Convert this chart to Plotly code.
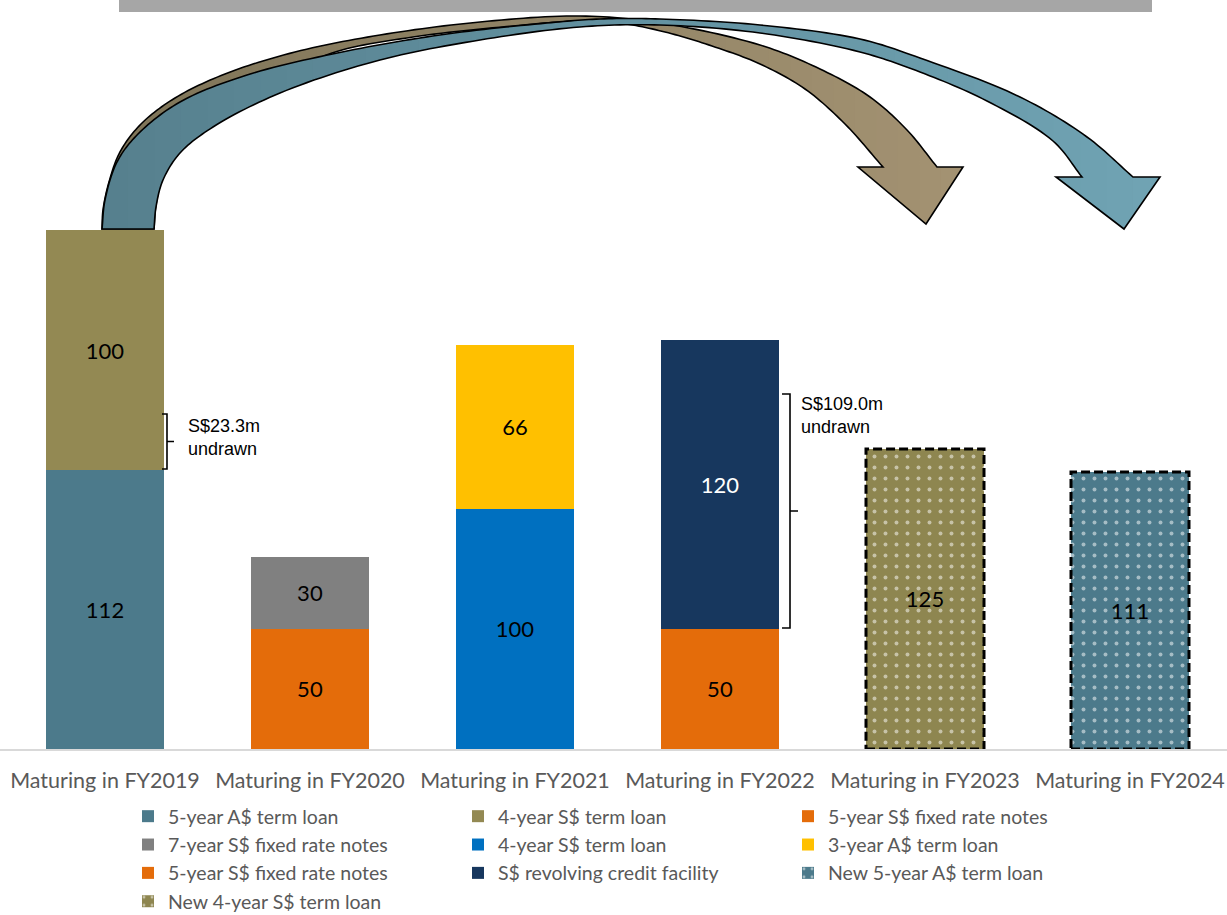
import numpy as np
import plotly.graph_objects as go

W, H = 1227, 915

# ---------------- data ----------------
categories = ["Maturing in FY2019", "Maturing in FY2020", "Maturing in FY2021",
              "Maturing in FY2022", "Maturing in FY2023", "Maturing in FY2024"]
series_names = ["5-year A$ term loan", "4-year S$ term loan", "5-year S$ fixed rate notes",
                "7-year S$ fixed rate notes", "4-year S$ term loan", "3-year A$ term loan",
                "5-year S$ fixed rate notes", "S$ revolving credit facility",
                "New 5-year A$ term loan", "New 4-year S$ term loan"]
series_category = ["Maturing in FY2019", "Maturing in FY2019", "Maturing in FY2020",
                   "Maturing in FY2020", "Maturing in FY2021", "Maturing in FY2021",
                   "Maturing in FY2022", "Maturing in FY2022",
                   "Maturing in FY2024", "Maturing in FY2023"]
# bar heights (S$ equivalent)
series_values = [116.2, 100, 50, 30, 100, 68.3, 50, 120.4, 115.4, 125]
# printed labels (original currency amounts)
series_labels = ["112", "100", "50", "30", "100", "66", "50", "120", "111", "125"]
series_colors = ["#4C7A8B", "#938953", "#E46C0A", "#808080", "#0070C0", "#FFC000",
                 "#E46C0A", "#17375E", "#4C7A8B", "#8E8650"]
label_colors = ["black"] * 7 + ["white"] + ["black"] * 2
patterned = [False] * 8 + [True, True]
undrawn_text = ["S$23.3m<br>undrawn", "S$109.0m<br>undrawn"]

# ---------------- figure ----------------
fig = go.Figure()
for name, cat, val, lab, col, lc, pat in zip(series_names, series_category, series_values,
                                               series_labels, series_colors, label_colors, patterned):
    marker = dict(color=col, line=dict(width=0))
    if pat:
        marker["pattern"] = dict(shape=".", fgcolor="white", size=11, solidity=0.1,
                                 fillmode="overlay")
    fig.add_trace(go.Bar(
        x=[cat], y=[val], name=name, marker=marker,
        text=[lab], textposition="inside", insidetextanchor="middle",
        textangle=0, constraintext="none",
        textfont=dict(family="Lato", size=22, color=lc),
        hoverinfo="skip",
    ))

# dashed borders on the new-loan bars (from the data)
bar_half = 0.5 * (1 - 0.4244)
for cat, val, pat in zip(series_category, series_values, patterned):
    if pat:
        i = categories.index(cat)
        fig.add_shape(type="rect", xref="x", yref="y", x0=i - bar_half, x1=i + bar_half,
                      y0=0, y1=val, line=dict(color="black", width=3, dash="9px,4px"),
                      fillcolor="rgba(0,0,0,0)", layer="above")


# ---------------- decorations (pixel coordinates -> paper) ----------------
def px(x, y):
    return x / W, 1 - y / H


def cr_seg(p0, p1, p2, p3, n):
    def tj(ti, a, b):
        return ti + max(np.linalg.norm(b - a), 1e-6) ** 0.5
    t0 = 0.0
    t1 = tj(t0, p0, p1)
    t2 = tj(t1, p1, p2)
    t3 = tj(t2, p2, p3)
    ts = np.linspace(t1, t2, n, endpoint=False)[:, None]
    A1 = (t1 - ts) / (t1 - t0) * p0 + (ts - t0) / (t1 - t0) * p1
    A2 = (t2 - ts) / (t2 - t1) * p1 + (ts - t1) / (t2 - t1) * p2
    A3 = (t3 - ts) / (t3 - t2) * p2 + (ts - t2) / (t3 - t2) * p3
    B1 = (t2 - ts) / (t2 - t0) * A1 + (ts - t0) / (t2 - t0) * A2
    B2 = (t3 - ts) / (t3 - t1) * A2 + (ts - t1) / (t3 - t1) * A3
    return (t2 - ts) / (t2 - t1) * B1 + (ts - t1) / (t2 - t1) * B2


def spline(points, n=14):
    P = np.array(points, float)
    P = np.vstack([2 * P[0] - P[1], P, 2 * P[-1] - P[-2]])
    out = []
    for i in range(1, len(P) - 2):
        out.append(cr_seg(P[i - 1], P[i], P[i + 1], P[i + 2], n))
    out.append(P[-2][None, :])
    return np.vstack(out)


def clip(poly, x0, keep_ge):
    out = []
    n = len(poly)
    for i in range(n):
        cur, prev = poly[i], poly[i - 1]
        cin = cur[0] >= x0 if keep_ge else cur[0] <= x0
        pin = prev[0] >= x0 if keep_ge else prev[0] <= x0
        if cin:
            if not pin:
                t = (x0 - prev[0]) / (cur[0] - prev[0])
                out.append((x0, prev[1] + t * (cur[1] - prev[1])))
            out.append(tuple(cur))
        elif pin:
            t = (x0 - prev[0]) / (cur[0] - prev[0])
            out.append((x0, prev[1] + t * (cur[1] - prev[1])))
    return out


def path_of(poly):
    s = ""
    for k, (x, y) in enumerate(poly):
        a, b = px(x, y)
        s += ("M" if k == 0 else "L") + f"{a:.5f},{b:.5f}"
    return s + "Z"


def mix(c1, c2, t):
    return "rgb(" + ",".join(str(int(round(a + (b - a) * t))) for a, b in zip(c1, c2)) + ")"


def arrow(outer, inner, head, c_left, c_right, nstrips=40):
    o = spline(outer)
    i = spline(inner)
    poly = [tuple(p) for p in o] + head + [tuple(p) for p in i[::-1]]
    xs = [p[0] for p in poly]
    xmin, xmax = min(xs), max(xs)
    edges = np.linspace(xmin, xmax, nstrips + 1)
    for k in range(nstrips):
        a, b = edges[k] - 0.6, edges[k + 1] + 0.6
        part = clip(clip(poly, a, True), b, False)
        if len(part) < 3:
            continue
        col = mix(c_left, c_right, (k + 0.5) / nstrips)
        fig.add_shape(type="path", xref="paper", yref="paper", path=path_of(part),
                      fillcolor=col, line=dict(width=0), layer="above")
    fig.add_shape(type="path", xref="paper", yref="paper", path=path_of(poly),
                  fillcolor="rgba(0,0,0,0)", line=dict(color="black", width=1.6), layer="above")


# tan arrow (behind)
tan_outer = [(102, 229), (103, 210), (109, 182), (120, 152), (141, 124), (175, 98), (225, 74),
             (295, 52), (380, 35), (480, 22), (580, 16), (660, 23), (760, 45), (820, 69),
             (870, 97), (907, 130), (937, 167)]
tan_inner = [(154, 229), (156, 205), (162, 180), (175, 158), (200, 133), (240, 105), (290, 74),
             (332, 53), (413, 37), (513, 26), (580, 21), (620, 23), (665, 32), (712, 46),
             (760, 64), (805, 89), (845, 124), (883, 167)]
tan_head = [(963, 167), (926, 224), (858, 167)]
arrow(tan_outer, tan_inner, tan_head, (126, 116, 88), (163, 146, 114))

# teal arrow (front)
teal_outer = [(102, 229), (105, 200), (117, 162), (138, 134), (180, 102), (247, 75), (347, 51),
              (447, 34), (547, 23), (600, 19), (660, 19), (760, 25), (860, 39), (920, 58),
              (1020, 97), (1087, 137), (1133, 177)]
teal_inner = [(154, 229), (156, 207), (163, 180), (180, 153), (213, 127), (280, 93), (380, 60),
              (480, 40), (580, 27), (660, 25), (760, 33), (860, 52), (920, 72), (987, 101),
              (1053, 141), (1082, 177)]
teal_head = [(1160, 177), (1124, 229), (1056, 177)]
arrow(teal_outer, teal_inner, teal_head, (86, 128, 142), (112, 163, 179))

# grey banner at top (partially visible)
x0, y0 = px(119, 0)
x1, y1 = px(1152, 12)
fig.add_shape(type="rect", xref="paper", yref="paper", x0=x0, x1=x1, y0=y1, y1=1.05,
              fillcolor="#A6A6A6", line=dict(width=0), layer="above")

# brackets for undrawn amounts
brackets = [((162, 414), (167, 469), 174), ((782, 394), (790, 628), 798)]
for (bx0, by0), (bx1, by1), tick in brackets:
    ym = 0.5 * (by0 + by1)
    p = [(bx0, by0), (bx1, by0), (bx1, by1), (bx0, by1)]
    s = ""
    for k, (x, y) in enumerate(p):
        a, b = px(x, y)
        s += ("M" if k == 0 else "L") + f"{a:.5f},{b:.5f}"
    a, b = px(bx1, ym)
    c, d = px(tick, ym)
    s += f"M{a:.5f},{b:.5f}L{c:.5f},{d:.5f}"
    fig.add_shape(type="path", xref="paper", yref="paper", path=s,
                  line=dict(color="black", width=1.6), layer="above")

for txt, (tx, ty) in zip(undrawn_text, [(186, 437), (799, 415)]):
    a, b = px(tx, ty)
    fig.add_annotation(x=a, y=b, xref="paper", yref="paper", text=txt, showarrow=False,
                       xanchor="left", yanchor="middle", align="left",
                       font=dict(family="Liberation Sans", size=18, color="black"))

# ---------------- layout ----------------
cat_w = 205.0
x_start = -105.0 / cat_w
fig.update_layout(
    width=W, height=H,
    margin=dict(l=0, r=0, t=0, b=0, autoexpand=False),
    plot_bgcolor="white", paper_bgcolor="white",
    barmode="stack", bargap=0.4244,
    xaxis=dict(type="category", categoryorder="array", categoryarray=categories,
               range=[x_start, x_start + W / cat_w], domain=[0, 1],
               showline=True, linecolor="#D9D9D9", linewidth=1.5, showgrid=False,
               ticks="", ticklabelstandoff=11, zeroline=False,
               tickfont=dict(family="Lato", size=21.5, color="#595959")),
    yaxis=dict(domain=[1 - 749 / H, 1], range=[0, 749 / 2.4006], visible=False),
    legend=dict(orientation="h", x=128 / W, y=1 - 797 / H, xanchor="left", yanchor="top",
                entrywidth=285, entrywidthmode="pixels", traceorder="normal",
                font=dict(family="Lato", size=19.5, color="#595959"),
                bgcolor="rgba(0,0,0,0)", itemclick=False, itemdoubleclick=False),
    showlegend=True,
)

fig.write_html("out.html")
